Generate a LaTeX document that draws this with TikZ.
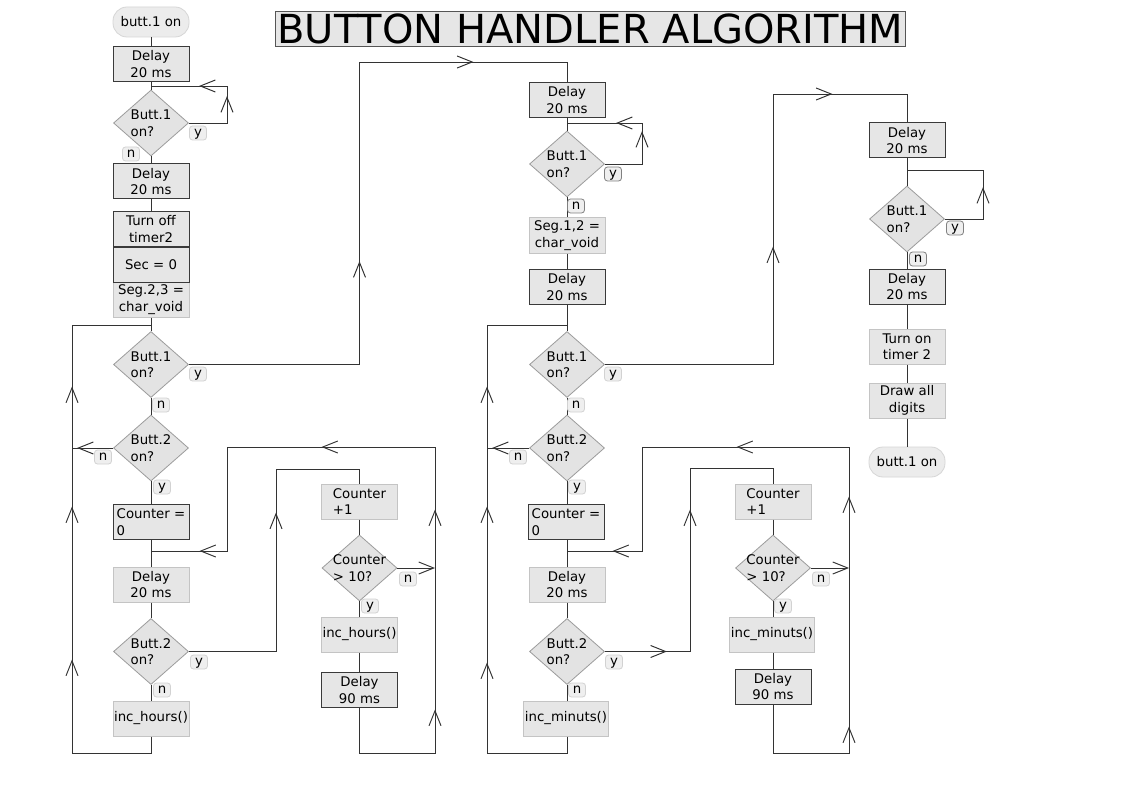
\documentclass[tikz,border=0pt]{standalone}
\usepackage{fontspec}
\setmainfont{DejaVu Sans}
\usetikzlibrary{arrows.meta,decorations.markings,shapes.geometric}

\definecolor{boxfill}{HTML}{E6E6E6}
\definecolor{dline}{HTML}{3A3A3A}
\definecolor{lline}{HTML}{C4C4C4}
\definecolor{diafill}{HTML}{E3E3E3}
\definecolor{dialine}{HTML}{9C9C9C}
\definecolor{conn}{HTML}{333333}
\definecolor{labfill}{HTML}{EFEFEF}
\definecolor{labline}{HTML}{D2D2D2}
\definecolor{labdark}{HTML}{808080}
\definecolor{termfill}{HTML}{ECECEC}
\definecolor{termline}{HTML}{D6D6D6}
\definecolor{titleline}{HTML}{555555}

\tikzset{
  bb/.tip={Straight Barb[length=15pt,width=12pt]},
  every node/.style={font=\fontsize{13.3}{16.5}\selectfont},
  dbox/.style={draw=dline, fill=boxfill, line width=1pt, minimum width=76pt, minimum height=35pt, inner sep=1pt, align=center},
  lbox/.style={dbox, draw=lline},
  dia/.style={diamond, draw=dialine, fill=diafill, line width=0.8pt, minimum width=75pt, minimum height=66pt, inner sep=0pt},
  dtxt/.style={align=left, inner sep=0pt},
  lab/.style={draw=labline, fill=labfill, line width=0.8pt, rounded corners=3pt, inner sep=0pt, minimum width=17pt, minimum height=14pt, text height=9pt, text depth=2.5pt},
  labd/.style={lab, draw=labdark},
  term/.style={draw=termline, fill=termfill, line width=0.8pt, rounded corners=14pt, minimum width=76pt, minimum height=30pt, inner sep=1pt},
  wire/.style={draw=conn, line width=0.95pt},
  ar/.style={postaction={decorate,decoration={markings,mark=at position #1 with {\arrow{bb}}}}},
}

\begin{document}
\begin{tikzpicture}[x=1pt,y=-1pt]
\fill[white] (0,0) rectangle (1123,794);
\useasboundingbox (0,0) rectangle (1123,794);

% ---------- title ----------
\node[draw=titleline, fill=boxfill, line width=1pt, inner xsep=2pt, inner ysep=2.5pt, font=\fontsize{40}{41}\selectfont] (title) at (590.5,29) {BUTTON HANDLER ALGORITHM};

% ---------- column 1 ----------
\node[term] (s1) at (151,22) {butt.1 on};
\node[dbox] (b1) at (151,64) {Delay\\20 ms};
\node[dia, label={[dtxt]center:Butt.1\\on?}] (d1) at (151,123) {};
\node[dbox] (b2) at (151,181.5) {Delay\\20 ms};
\node[lbox] (b5) at (151,299.5) {Seg.2,3 =\\char\_void};
\node[dbox] (b3) at (151,229) {Turn off\\timer2};
\node[dbox] (b4) at (151,264.5) {Sec = 0};
\node[dia, label={[dtxt]center:Butt.1\\on?}] (d2) at (151,364.5) {};
\node[dia, label={[dtxt]center:Butt.2\\on?}] (d3) at (151,448) {};
\node[dbox, align=left] (b6) at (151,522) {Counter =\\0};
\node[lbox] (b7) at (151,584.5) {Delay\\20 ms};
\node[dia, label={[dtxt]center:Butt.2\\on?}] (d4) at (151,651.5) {};
\node[lbox] (b8) at (151,718.5) {inc\_hours()};
\node[lbox, align=left] (b9) at (359.5,501.5) {Counter\\+1};
\node[dia, label={[dtxt]center:Counter\\> 10?}] (d5) at (359.5,568) {};
\node[lbox] (b10) at (359.5,634.5) {inc\_hours()};
\node[dbox] (b11) at (359.5,690) {Delay\\90 ms};

% ---------- column 2 ----------
\node[dbox] (c1) at (567,100) {Delay\\20 ms};
\node[dia, label={[dtxt]center:Butt.1\\on?}] (cd1) at (567,164) {};
\node[lbox] (c2) at (567,235.5) {Seg.1,2 =\\char\_void};
\node[dbox] (c3) at (567,287) {Delay\\20 ms};
\node[dia, label={[dtxt]center:Butt.1\\on?}] (cd2) at (567,364.5) {};
\node[dia, label={[dtxt]center:Butt.2\\on?}] (cd3) at (567,448) {};
\node[dbox, align=left] (c4) at (566,522) {Counter =\\0};
\node[lbox] (c5) at (567,584.5) {Delay\\20 ms};
\node[dia, label={[dtxt]center:Butt.2\\on?}] (cd4) at (567,651.5) {};
\node[lbox] (c6) at (566,718.5) {inc\_minuts()};
\node[lbox, align=left] (c9) at (773,501.5) {Counter\\+1};
\node[dia, label={[dtxt]center:Counter\\> 10?}] (cd5) at (773,568) {};
\node[lbox] (c10) at (772,634.5) {inc\_minuts()};
\node[dbox] (c11) at (773,686.5) {Delay\\90 ms};

% ---------- column 3 ----------
\node[dbox] (e1) at (907,140.5) {Delay\\20 ms};
\node[dia, label={[dtxt]center:Butt.1\\on?}] (ed1) at (907,219) {};
\node[dbox] (e2) at (907,286.5) {Delay\\20 ms};
\node[lbox] (e3) at (907,346.5) {Turn on\\timer 2};
\node[lbox] (e4) at (907,400.5) {Draw all\\digits};
\node[term] (e5) at (907,462) {butt.1 on};

% ---------- coordinates ----------
\coordinate (j1) at (151,86);  \coordinate (k1) at (227,86);
\coordinate (k2) at (359.5,62);
\coordinate (k3) at (72,448);
\coordinate (k4) at (72,753);  \coordinate (j2) at (151,325);
\coordinate (k5) at (276,469);
\coordinate (k6) at (435,753); \coordinate (k7) at (227,447); \coordinate (j3) at (151,551);
\coordinate (k8) at (435,568);
\coordinate (m1) at (567,123); \coordinate (n1) at (642,123);
\coordinate (n2) at (773,94);
\coordinate (n3) at (487,448);
\coordinate (n4) at (487,753); \coordinate (m2) at (567,325);
\coordinate (n5) at (690,468);
\coordinate (n6) at (849,753); \coordinate (n7) at (642,447); \coordinate (m3) at (567,551);
\coordinate (n8) at (849,568);
\coordinate (p1) at (907,170); \coordinate (q1) at (983,170);

% ---------- connectors column 1 ----------
\draw[wire] (s1) -- (b1);
\draw[wire] (b1) -- (d1);
\draw[wire] (d1) -- (b2);
\draw[wire] (b2) -- (b3);
\draw[wire] (b5) -- (d2);
\draw[wire] (d2) -- (d3);
\draw[wire] (d3) -- (b6);
\draw[wire] (b6) -- (b7);
\draw[wire] (b7) -- (d4);
\draw[wire] (d4) -- (b8);
\draw[wire] (b9) -- (d5);
\draw[wire] (d5) -- (b10);
\draw[wire] (b10) -- (b11);
\draw[wire, ar=65pt, ar=103pt] (d1.east) -| (k1) -- (j1);
\draw[wire, ar=274pt, ar=587pt] (d2.east) -| (k2) -| (c1.north);
\draw[wire, ar=36pt] (d3.west) -- (k3);
\draw[wire, ar=189pt, ar=342pt, ar=462pt] (b8.south) |- (k4) -- (j2 -| k4) -- (j2);
\draw[wire, ar=226pt] (d4.east) -| (k5) -| (b9.north);
\draw[wire, ar=164pt, ar=364pt, ar=540pt, ar=766pt] (b11.south) |- (k6) -- (k6 |- k7) -- (k7) -- (k7 |- j3) -- (j3);
\draw[wire, -{bb}] (d5.east) -- (k8);

% ---------- connectors column 2 ----------
\draw[wire] (c1) -- (cd1);
\draw[wire] (cd1) -- (c2);
\draw[wire] (c2) -- (c3);
\draw[wire] (c3) -- (cd2);
\draw[wire] (cd2) -- (cd3);
\draw[wire] (cd3) -- (c4.north -| cd3);
\draw[wire] (c4.south -| cd3) -- (c5);
\draw[wire] (c5) -- (cd4);
\draw[wire] (cd4) -- (c6.north -| cd4);
\draw[wire] (c9) -- (cd5);
\draw[wire] (cd5) -- (c10.north -| cd5);
\draw[wire] (c10.south -| cd5) -- (c11);
\draw[wire, ar=70pt, ar=104pt] (cd1.east) -| (n1) -- (m1);
\draw[wire, ar=286pt, ar=498pt] (cd2.east) -| (n2) -| (e1.north);
\draw[wire, ar=37pt] (cd3.west) -- (n3);
\draw[wire, ar=187pt, ar=343pt, ar=463pt] (c6.south -| m2) |- (n4) -- (m2 -| n4) -- (m2);
\draw[wire, ar=62pt, ar=227pt] (cd4.east) -| (n5) -| (c9.north);
\draw[wire, ar=151pt, ar=381pt, ar=543pt, ar=771pt] (c11.south) |- (n6) -- (n6 |- n7) -- (n7) -- (n7 |- m3) -- (m3);
\draw[wire, -{bb}] (cd5.east) -- (n8);

% ---------- connectors column 3 ----------
\draw[wire] (e1) -- (ed1);
\draw[wire] (ed1) -- (e2);
\draw[wire] (e2) -- (e3);
\draw[wire] (e3) -- (e4);
\draw[wire] (e4) -- (e5);
\draw[wire, ar=70pt] (ed1.east) -| (q1) -- (p1);

% ---------- branch labels ----------
\node[lab] (l1y) at (198,133) {y};
\node[lab] (l1n) at (131,154) {n};
\node[lab] (l2y) at (198,374) {y};
\node[lab] (l2n) at (161,405) {n};
\node[lab] (l3n) at (103,457) {n};
\node[lab] (l3y) at (162,487) {y};
\node[lab] (l4y) at (199,662) {y};
\node[lab] (l4n) at (162,690) {n};
\node[lab] (l5n) at (408,579) {n};
\node[lab] (l5y) at (370,606) {y};

\node[labd] (m1y) at (613,174) {y};
\node[labd] (m1n) at (576,206) {n};
\node[lab] (m2y) at (613,374) {y};
\node[lab] (m2n) at (576,405) {n};
\node[lab] (m3n) at (518,457) {n};
\node[lab] (m3y) at (577,487) {y};
\node[lab] (m4y) at (614,662) {y};
\node[lab] (m4n) at (577,690) {n};
\node[lab] (m5n) at (821,579) {n};
\node[lab] (m5y) at (783,606) {y};

\node[labd] (r1y) at (955,228) {y};
\node[labd] (r1n) at (918,259) {n};
\end{tikzpicture}
\end{document}
